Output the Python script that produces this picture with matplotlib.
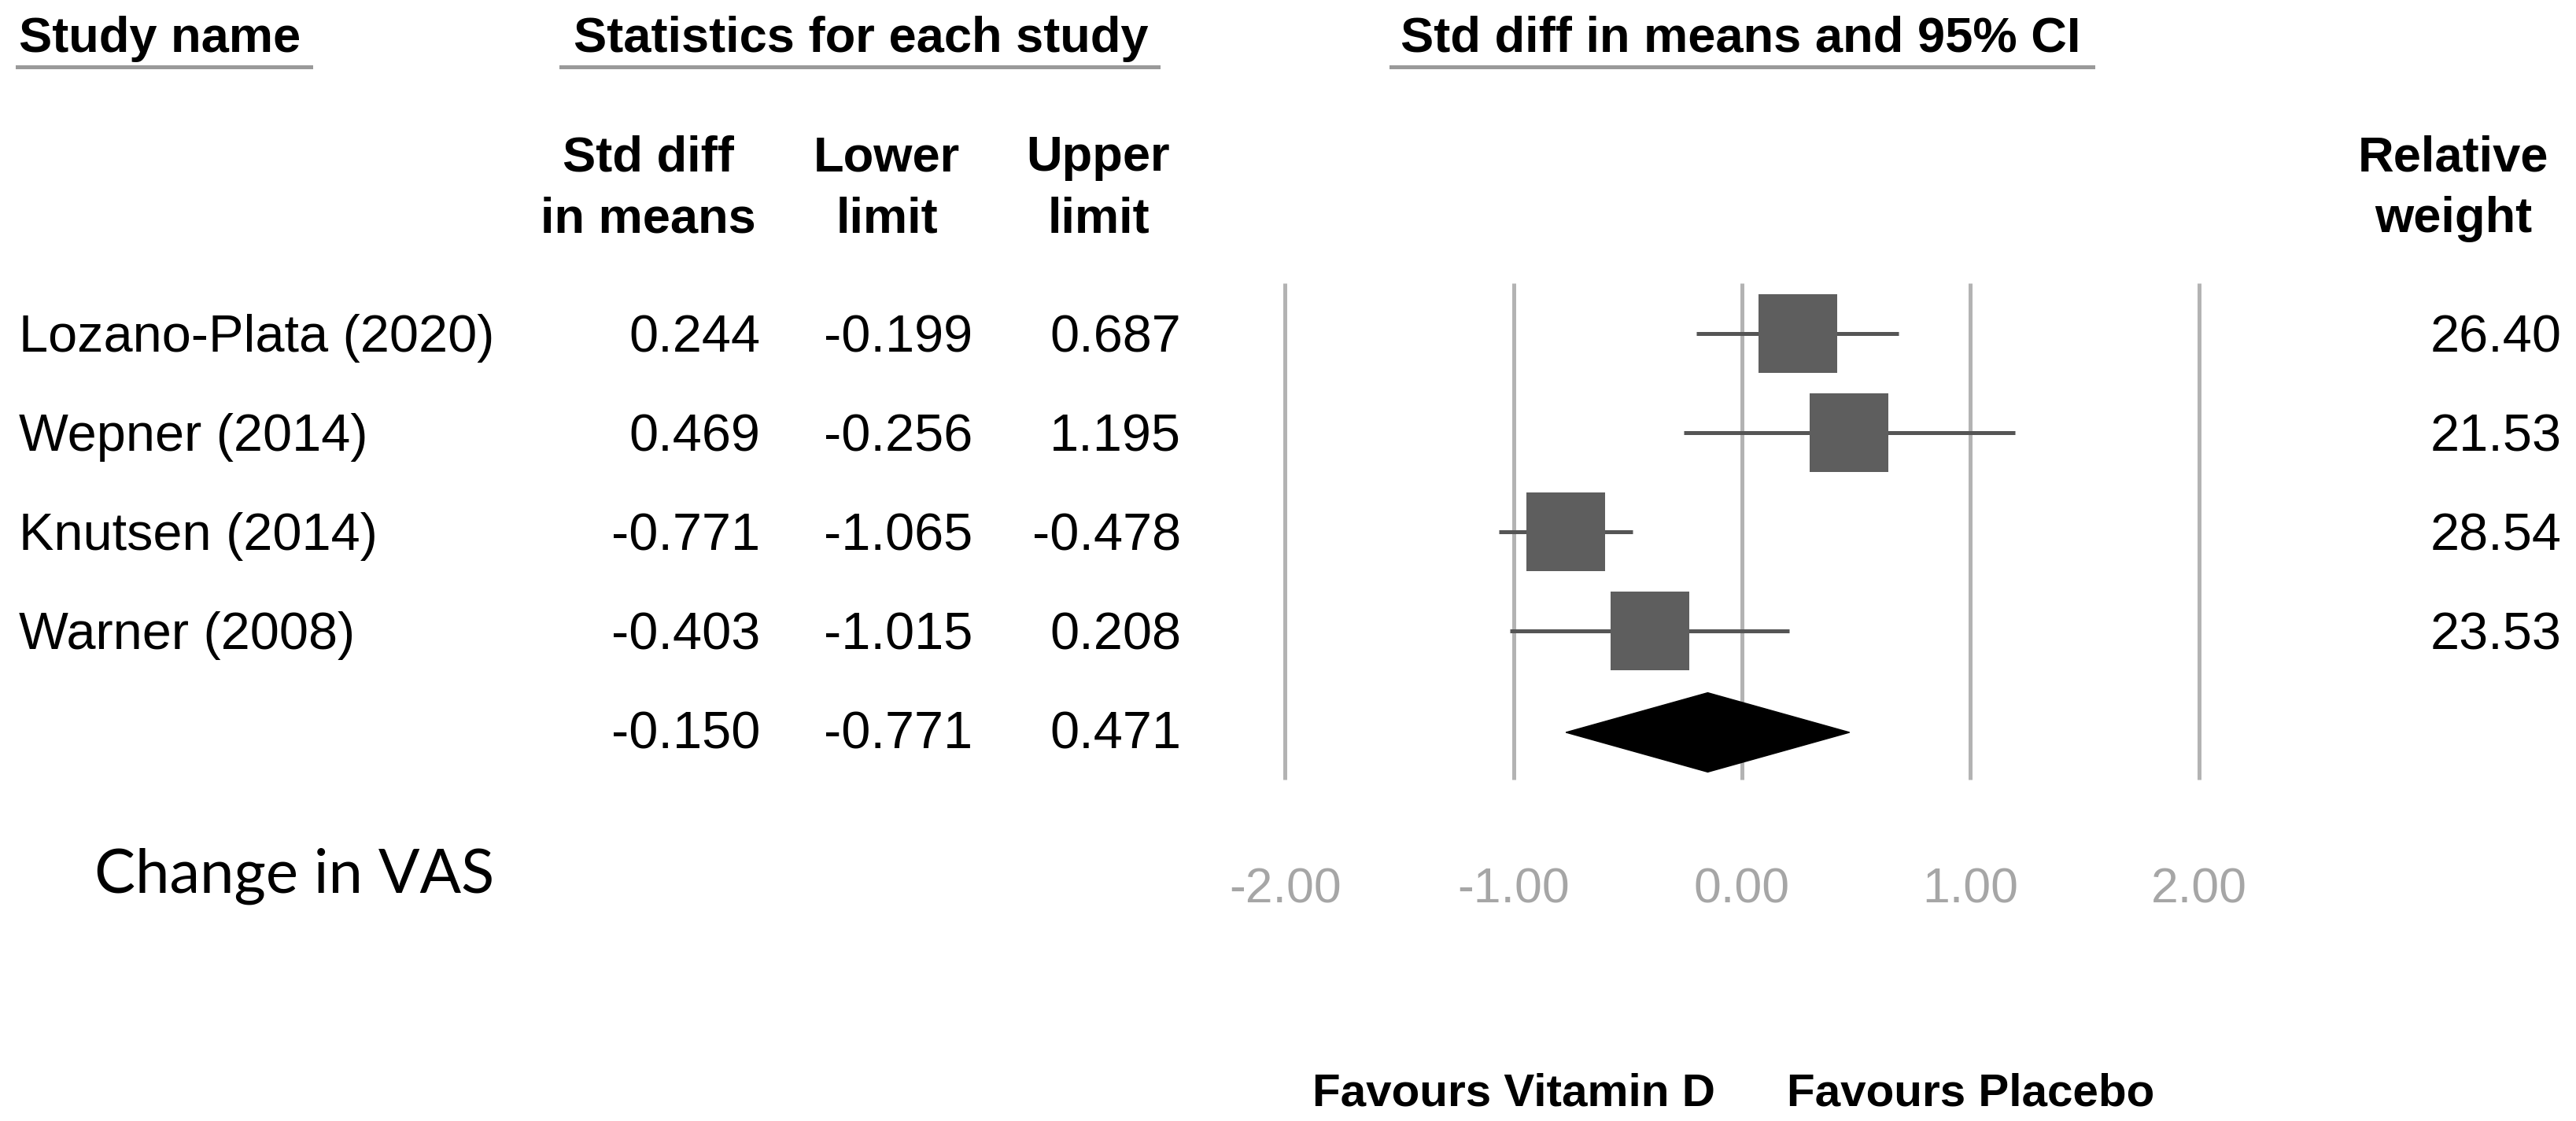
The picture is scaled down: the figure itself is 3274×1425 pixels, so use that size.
import matplotlib
matplotlib.use("Agg")
import matplotlib.pyplot as plt
from matplotlib.patches import Polygon
import matplotlib.transforms as mtransforms

# ---------------- data ----------------
studies = ["Lozano-Plata (2020)", "Wepner (2014)", "Knutsen (2014)", "Warner (2008)"]
smd = [0.244, 0.469, -0.771, -0.403]
lower = [-0.199, -0.256, -1.065, -1.015]
upper = [0.687, 1.195, -0.478, 0.208]
weights = [26.40, 21.53, 28.54, 23.53]
summary_smd = -0.150
summary_lower = -0.771
summary_upper = 0.471
xticks = [-2.0, -1.0, 0.0, 1.0, 2.0]
xtick_labels = ["-2.00", "-1.00", "0.00", "1.00", "2.00"]

W, H = 3274, 1425
DPI = 100
fig = plt.figure(figsize=(W / DPI, H / DPI), dpi=DPI)
fig.patch.set_facecolor("white")

# axes covering the whole figure; x in effect-size units, y in row units
X0, XU = 2214.0, 290.3      # pixel of x=0, pixels per unit
Y0, YU = 424.0, 126.0       # pixel centre of first row, pixels per row
ax = fig.add_axes([0, 0, 1, 1])
ax.set_xlim((0 - X0) / XU, (W - X0) / XU)
ax.set_ylim((H - Y0) / YU, (0 - Y0) / YU)
ax.axis("off")

def fx(px):
    return px / W

def ry(py):
    return (py - Y0) / YU

blend = mtransforms.blended_transform_factory(fig.transFigure, ax.transData)

FONT = "Liberation Sans"
GRID = "#b3b3b3"
UL = "#9a9a9a"

# ---------- vertical reference lines ----------
n = len(studies)
ax.vlines(xticks, ry(360), ry(991), color=GRID, lw=3.6, zorder=1)

# ---------- CI lines and boxes ----------
rows = list(range(n))
ax.hlines(rows, lower, upper, color="#555555", lw=3.6, zorder=2)
ax.scatter(smd, rows, marker="s", s=72 ** 2, color="#5e5e5e", linewidths=0, zorder=3)

# ---------- summary diamond ----------
yd = ry(931)
hd = 0.40
diamond = Polygon([(summary_lower, yd), (summary_smd, yd - hd),
                   (summary_upper, yd), (summary_smd, yd + hd)],
                  closed=True, facecolor="black", edgecolor="black", lw=1, zorder=3)
ax.add_patch(diamond)

# ---------- tick labels ----------
for xt, lab in zip(xticks, xtick_labels):
    ax.text(xt, ry(1148), lab, ha="center", va="baseline", fontsize=45,
            color="#a6a6a6", family=FONT)

# ---------- headers ----------
hdr_kw = dict(fontsize=45.5, fontweight="bold", family=FONT, va="baseline", color="black")
fig.text(fx(24), 1 - 66 / H, "Study name", ha="left", **hdr_kw)
fig.text(fx(1094), 1 - 66 / H, "Statistics for each study", ha="center", **hdr_kw)
fig.text(fx(2212), 1 - 66 / H, "Std diff in means and 95% CI", ha="center", **hdr_kw)

def uline(x1, x2, py):
    fig.add_artist(plt.Line2D([fx(x1), fx(x2)], [1 - py / H, 1 - py / H],
                              transform=fig.transFigure, color=UL, lw=3.6))

uline(22, 395, 85)
uline(713, 1472, 85)
uline(1768, 2660, 85)

col_hdrs = [("Std diff", "in means", 824), ("Lower", "limit", 1127),
            ("Upper", "limit", 1396), ("Relative", "weight", 3118)]
for l1, l2, cx in col_hdrs:
    fig.text(fx(cx), 1 - 217 / H, l1, ha="center", **hdr_kw)
    fig.text(fx(cx), 1 - 295 / H, l2, ha="center", **hdr_kw)

# ---------- table values ----------
val_kw = dict(fontsize=48, family=FONT, va="baseline", color="black")
off = 23 / YU
for i in range(n):
    ax.text(fx(24), i + off, studies[i], ha="left", transform=blend, **val_kw)
    ax.text(fx(966), i + off, f"{smd[i]:.3f}", ha="right", transform=blend, **val_kw)
    ax.text(fx(1236), i + off, f"{lower[i]:.3f}", ha="right", transform=blend, **val_kw)
    ax.text(fx(1501), i + off, f"{upper[i]:.3f}", ha="right", transform=blend, **val_kw)
    ax.text(fx(3256), i + off, f"{weights[i]:.2f}", ha="right", transform=blend, **val_kw)

ys = n
ax.text(fx(966), ys + off, f"{summary_smd:.3f}", ha="right", transform=blend, **val_kw)
ax.text(fx(1236), ys + off, f"{summary_lower:.3f}", ha="right", transform=blend, **val_kw)
ax.text(fx(1501), ys + off, f"{summary_upper:.3f}", ha="right", transform=blend, **val_kw)

# ---------- footer ----------
fig.text(fx(120), 1 - 1135 / H, "Change in VAS", ha="left", va="baseline",
         fontsize=56, family="Lato", color="black")
fav_kw = dict(fontsize=42, fontweight="bold", family=FONT, va="baseline", color="black")
fig.text(fx(2180), 1 - 1405 / H, "Favours Vitamin D", ha="right", **fav_kw)
fig.text(fx(2271), 1 - 1405 / H, "Favours Placebo", ha="left", **fav_kw)

fig.savefig("out.png", dpi=DPI, facecolor="white")
